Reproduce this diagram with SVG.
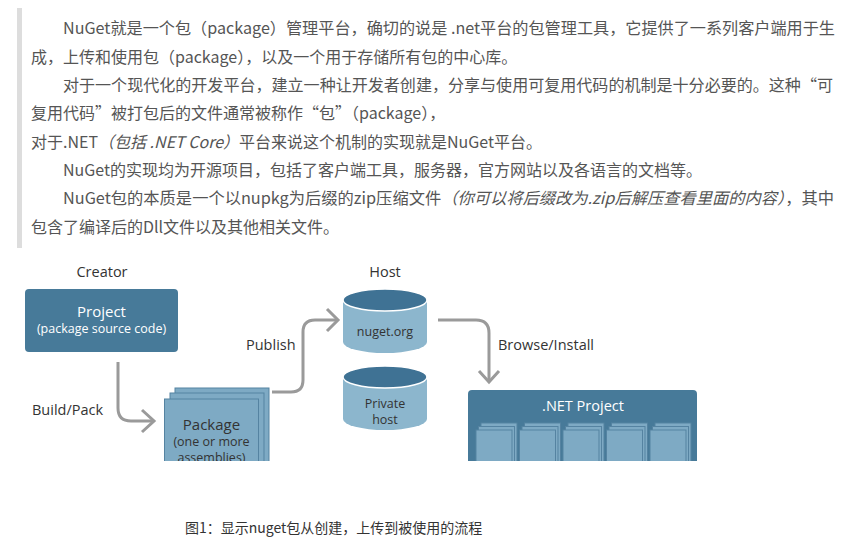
<svg xmlns="http://www.w3.org/2000/svg" width="844" height="539" viewBox="0 0 844 539">
  <defs>
    <style>
      .para { font-family: "Noto Sans CJK SC", "Noto Sans", sans-serif; font-size: 16px; fill: #555; }
      .it { font-style: italic; }
      .lbl { font-family: "Open Sans", "Noto Sans", sans-serif; fill: #333; }
      .wlbl { font-family: "Open Sans", "Noto Sans", sans-serif; fill: #fff; }
      .dark { fill: #477a99; }
      .light { fill: #7eaac4; stroke: #5583a1; stroke-width: 1; }
      .cylbody { fill: #8cb6cd; }
      .cyltop { fill: #3f7294; stroke: #fff; stroke-width: 1.5; }
      .conn { fill: none; stroke: #9a9a9a; stroke-width: 3; stroke-linecap: butt; stroke-linejoin: miter; }
      .cap { font-family: "Noto Sans CJK SC", "Noto Sans", sans-serif; font-size: 14px; fill: #333; }
    </style>
    <clipPath id="diagClip">
      <rect x="0" y="255" width="844" height="206"/>
    </clipPath>
  </defs>

  <rect x="0" y="0" width="844" height="539" fill="#fff"/>

  <g id="article-text">
    <rect x="17" y="8" width="5" height="240" fill="#dddddd"/>
    <text class="para" x="63" y="34" textLength="772" lengthAdjust="spacingAndGlyphs">NuGet就是一个包（package）管理平台，确切的说是 .net平台的包管理工具，它提供了一系列客户端用于生</text>
    <text class="para" x="31" y="63">成，上传和使用包（package），以及一个用于存储所有包的中心库。</text>
    <text class="para" x="63" y="91" textLength="770" lengthAdjust="spacingAndGlyphs">对于一个现代化的开发平台，建立一种让开发者创建，分享与使用可复用代码的机制是十分必要的。这种“可</text>
    <text class="para" x="31" y="119">复用代码”被打包后的文件通常被称作“包”（package），</text>
    <text class="para" x="31" y="148">对于.NET<tspan class="it">（包括 .NET Core）</tspan>平台来说这个机制的实现就是NuGet平台。</text>
    <text class="para" x="63" y="176">NuGet的实现均为开源项目，包括了客户端工具，服务器，官方网站以及各语言的文档等。</text>
    <text class="para" x="63" y="204" textLength="771" lengthAdjust="spacingAndGlyphs">NuGet包的本质是一个以nupkg为后缀的zip压缩文件<tspan class="it">（你可以将后缀改为.zip后解压查看里面的内容）</tspan>，其中</text>
    <text class="para" x="31" y="233">包含了编译后的Dll文件以及其他相关文件。</text>
  </g>

  <g id="diagram" clip-path="url(#diagClip)">
    <g id="labels">
      <text class="lbl" x="102" y="277" font-size="14.5" text-anchor="middle">Creator</text>
      <text class="lbl" x="385" y="277" font-size="14.5" text-anchor="middle">Host</text>
      <text class="lbl" x="32" y="415" font-size="14.5">Build/Pack</text>
      <text class="lbl" x="246" y="350" font-size="14.5">Publish</text>
      <text class="lbl" x="498" y="350" font-size="14.5">Browse/Install</text>
    </g>

    <g id="connectors">
      <path class="conn" d="M118,362 V408 Q118,421 131,421 H153"/>
      <path class="conn" d="M142,410 L154,421 L142,432"/>
      <path class="conn" d="M272,392 H291 Q303,392 303,380 V332 Q303,320 315,320 H337"/>
      <path class="conn" d="M327,309 L338,320 L327,331"/>
      <path class="conn" d="M438,320 H476 Q489,320 489,333 V381"/>
      <path class="conn" d="M479,371 L489,382 L499,371"/>
    </g>

    <g id="node-project">
      <rect class="dark" x="25" y="289" width="153" height="63" rx="4"/>
      <text class="wlbl" x="101.5" y="317" font-size="15" text-anchor="middle">Project</text>
      <text class="wlbl" x="101.5" y="333" font-size="12.5" text-anchor="middle">(package source code)</text>
    </g>

    <g id="node-package">
      <rect class="light" x="175" y="388" width="94" height="90"/>
      <rect class="light" x="170" y="393" width="94" height="90"/>
      <rect class="light" x="164.5" y="399" width="94" height="90"/>
      <text class="lbl" x="211.5" y="430" font-size="15" text-anchor="middle">Package</text>
      <text class="lbl" x="211.5" y="446" font-size="12.5" text-anchor="middle">(one or more</text>
      <text class="lbl" x="211.5" y="462" font-size="12.5" text-anchor="middle">assemblies)</text>
    </g>

    <g id="node-nuget-org">
      <path class="cylbody" d="M343,300 V342 A42,11 0 0 0 427,342 V300 Z"/>
      <ellipse class="cyltop" cx="385" cy="300" rx="42" ry="11"/>
      <text class="lbl" x="385" y="336" font-size="12.5" text-anchor="middle">nuget.org</text>
    </g>

    <g id="node-private-host">
      <path class="cylbody" d="M343,377 V419 A42,11 0 0 0 427,419 V377 Z"/>
      <ellipse class="cyltop" cx="385" cy="377" rx="42" ry="11"/>
      <text class="lbl" x="385" y="408" font-size="12.5" text-anchor="middle">Private</text>
      <text class="lbl" x="385" y="424" font-size="12.5" text-anchor="middle">host</text>
    </g>

    <g id="node-dotnet-project">
      <rect class="dark" x="468" y="390" width="229" height="90" rx="4"/>
      <text class="wlbl" x="583" y="411" font-size="14.5" text-anchor="middle">.NET Project</text>
      <g id="assemblies">
        <rect class="light" x="481" y="423" width="36" height="50"/>
        <rect class="light" x="478.5" y="426.5" width="36" height="50"/>
        <rect class="light" x="476" y="430" width="36" height="50"/>
        <rect class="light" x="524.5" y="423" width="36" height="50"/>
        <rect class="light" x="522" y="426.5" width="36" height="50"/>
        <rect class="light" x="519.5" y="430" width="36" height="50"/>
        <rect class="light" x="568" y="423" width="36" height="50"/>
        <rect class="light" x="565.5" y="426.5" width="36" height="50"/>
        <rect class="light" x="563" y="430" width="36" height="50"/>
        <rect class="light" x="611.5" y="423" width="36" height="50"/>
        <rect class="light" x="609" y="426.5" width="36" height="50"/>
        <rect class="light" x="606.5" y="430" width="36" height="50"/>
        <rect class="light" x="655" y="423" width="36" height="50"/>
        <rect class="light" x="652.5" y="426.5" width="36" height="50"/>
        <rect class="light" x="650" y="430" width="36" height="50"/>
      </g>
    </g>
  </g>

  <text class="cap" x="185" y="533">图1：显示nuget包从创建，上传到被使用的流程</text>
</svg>
